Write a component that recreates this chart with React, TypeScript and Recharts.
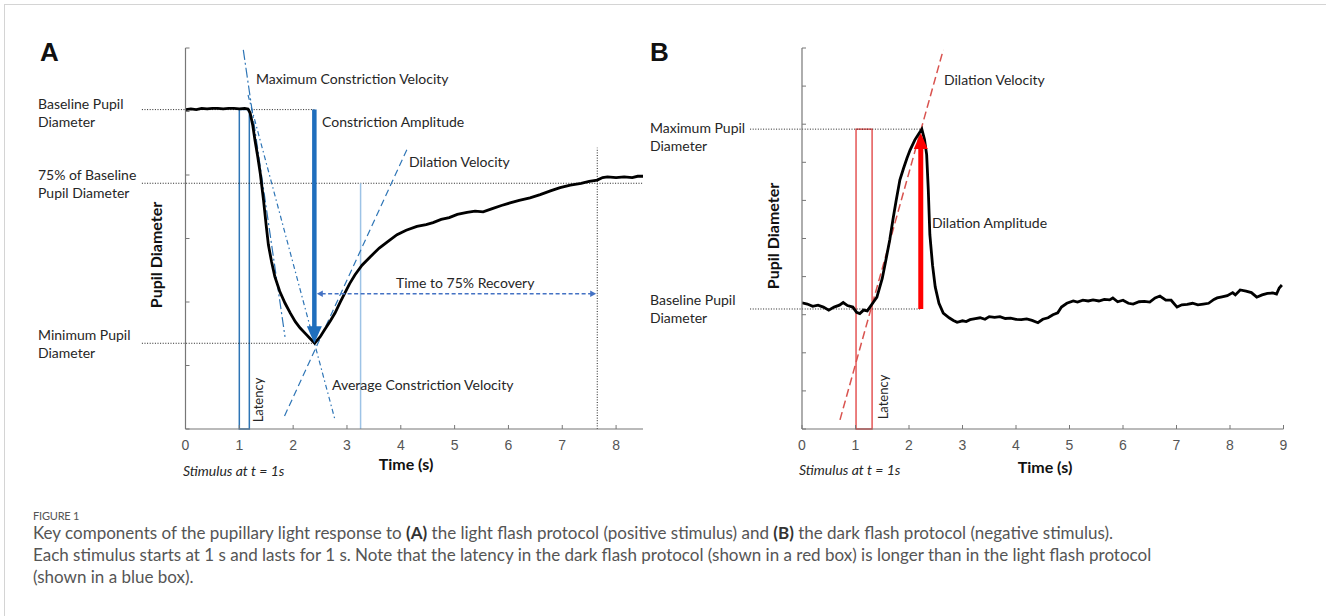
import React from 'react';
import { LineChart, Line, XAxis, YAxis, ReferenceLine, ReferenceArea } from 'recharts';

// ---------- Panel A: light flash (positive stimulus) ----------
const timeA = [0,0.1,0.2,0.3,0.4,0.5,0.6,0.7,0.8,0.9,1.0,1.1,1.16,1.2,1.25,1.29,1.34,1.39,1.45,1.5,1.54,1.6,1.66,1.75,1.85,1.95,2.04,2.13,2.22,2.31,2.4,2.5,2.59,2.69,2.78,2.87,2.96,3.05,3.15,3.28,3.43,3.6,3.77,3.93,4.1,4.3,4.47,4.6,4.75,4.9,5.05,5.23,5.38,5.53,5.7,5.87,6.03,6.2,6.4,6.59,6.78,6.96,7.15,7.35,7.5,7.65,7.75,7.84,8.0,8.15,8.3,8.4,8.5];
const diamA = [5.03,5.04,5.03,5.05,5.04,5.05,5.05,5.04,5.05,5.05,5.04,5.05,5.04,4.98,4.78,4.55,4.3,4.02,3.6,3.2,2.9,2.63,2.40,2.17,1.98,1.82,1.69,1.59,1.51,1.43,1.35,1.45,1.57,1.70,1.83,1.99,2.14,2.29,2.43,2.58,2.71,2.85,2.96,3.06,3.13,3.19,3.22,3.25,3.30,3.33,3.38,3.41,3.43,3.42,3.47,3.52,3.56,3.60,3.64,3.69,3.75,3.80,3.84,3.87,3.90,3.92,3.96,3.97,3.96,3.97,3.96,3.98,3.98];
const xTicksA = [0,1,2,3,4,5,6,7,8];
const yTicksA = [0,1,2,3,4,5,6];

// ---------- Panel B: dark flash (negative stimulus) ----------
const timeB = [0,0.1,0.2,0.3,0.4,0.5,0.6,0.7,0.77,0.85,0.95,1.02,1.08,1.15,1.22,1.27,1.33,1.4,1.5,1.57,1.64,1.7,1.76,1.83,1.9,1.96,2.02,2.11,2.18,2.24,2.29,2.33,2.36,2.39,2.44,2.49,2.56,2.64,2.75,2.83,2.9,3.0,3.07,3.14,3.24,3.33,3.42,3.5,3.6,3.7,3.8,3.9,4.0,4.1,4.2,4.3,4.41,4.5,4.6,4.69,4.78,4.85,4.95,5.07,5.15,5.25,5.35,5.44,5.55,5.65,5.75,5.81,5.9,6.0,6.1,6.19,6.3,6.4,6.5,6.6,6.69,6.8,6.9,7.01,7.1,7.2,7.3,7.4,7.5,7.6,7.7,7.76,7.85,7.95,8.05,8.1,8.19,8.3,8.4,8.5,8.6,8.7,8.8,8.87,8.92,8.97];
const diamB = [3.31,3.28,3.22,3.25,3.2,3.12,3.2,3.25,3.32,3.24,3.2,3.06,3.03,3.12,3.1,3.2,3.32,3.46,3.95,4.45,4.96,5.5,6.0,6.54,6.85,7.1,7.32,7.59,7.74,7.87,7.6,7.2,6.3,5.1,4.3,3.73,3.3,3.04,2.92,2.85,2.8,2.84,2.82,2.87,2.9,2.92,2.88,2.95,2.93,2.95,2.9,2.91,2.88,2.87,2.89,2.85,2.79,2.88,2.92,3.0,3.05,3.2,3.3,3.36,3.33,3.38,3.36,3.39,3.36,3.4,3.39,3.44,3.34,3.38,3.3,3.28,3.34,3.35,3.33,3.44,3.49,3.38,3.38,3.2,3.26,3.27,3.3,3.26,3.28,3.3,3.4,3.44,3.47,3.5,3.58,3.52,3.65,3.62,3.58,3.46,3.52,3.56,3.57,3.54,3.7,3.78];
const xTicksB = [0,1,2,3,4,5,6,7,8,9];
const yTicksB = [0,1,2,3,4,5,6,7,8,9,10];

// ---------- Annotation values (data units) ----------
const A_baseline = 5.03;
const A_recovery75 = 3.87;
const A_minimum = 1.35;
const A_minTime = 2.394;
const A_recoveryTime = 7.63;
const A_latency = [1.0, 1.186];
const A_labelStartT = -0.81;
const A_maxVel = [[1.074, 5.97], [1.849, 1.45]];
const A_avgVel = [[1.162, 5.26], [2.779, 0.14]];
const A_dilVel = [[1.84, 0.205], [4.13, 4.43]];
const A_peakMarkT = 3.253;
const A_recovTopV = 4.43;
const A_timeArrowV = 2.13;

const B_baseline = 3.15;
const B_maximum = 7.87;
const B_peakTime = 2.22;
const B_latency = [1.01, 1.31];
const B_labelStartT = -0.97;
const B_dilVel = [[0.71, 0.24], [2.64, 9.95]];

const dataA = timeA.map((t, i) => ({ t, v: diamA[i] }));
const dataB = timeB.map((t, i) => ({ t, v: diamB[i] }));

const LABEL_FONT = 'Lato, "Open Sans", sans-serif';
const TICK_FONT = '"Liberation Sans", Arial, sans-serif';

const XTick = (p: any) => (
  <g>
    <line x1={p.x} x2={p.x} y1={p.y} y2={p.y - 4} stroke="#777" strokeWidth={1} />
    <text x={p.x} y={p.y + 21} textAnchor="middle" fill="#555" fontSize={14} fontFamily={TICK_FONT}>
      {p.payload.value}
    </text>
  </g>
);
const YTick = (p: any) => (
  <line x1={p.x} x2={p.x + 4} y1={p.y} y2={p.y} stroke="#777" strokeWidth={1} />
);

function arrowShape(o: { color: string; width: number; headLen: number; headW: number; dash?: string; start?: boolean; end?: boolean }) {
  return (p: any) => {
    const { x1, y1, x2, y2 } = p;
    const dx = x2 - x1, dy = y2 - y1;
    const L = Math.hypot(dx, dy) || 1;
    const ux = dx / L, uy = dy / L, nx = -uy, ny = ux;
    const hl = o.headLen, hw = o.headW;
    const sx = o.start ? x1 + ux * hl * 0.8 : x1, sy = o.start ? y1 + uy * hl * 0.8 : y1;
    const ex = o.end ? x2 - ux * hl * 0.8 : x2, ey = o.end ? y2 - uy * hl * 0.8 : y2;
    const head = (tx: number, ty: number, dir: number) =>
      `${tx},${ty} ${tx - dir * ux * hl + nx * hw},${ty - dir * uy * hl + ny * hw} ${tx - dir * ux * hl - nx * hw},${ty - dir * uy * hl - ny * hw}`;
    return (
      <g>
        <line x1={sx} y1={sy} x2={ex} y2={ey} stroke={o.color} strokeWidth={o.width} strokeDasharray={o.dash} />
        {o.end && <polygon points={head(x2, y2, 1)} fill={o.color} />}
        {o.start && <polygon points={head(x1, y1, -1)} fill={o.color} />}
      </g>
    );
  };
}

const dotted = { stroke: '#222', strokeWidth: 1, strokeDasharray: '1 1.6' };
const seg = (a: number[], b: number[]) => [{ x: a[0], y: a[1] }, { x: b[0], y: b[1] }];

const T = (props: any) => (
  <text fontFamily={LABEL_FONT} fontSize={14} fill="#262626" {...props} />
);

const Lines2 = ({ x, y, a, b }: any) => (
  <T x={x} y={y}>
    <tspan x={x} dy={0}>{a}</tspan>
    <tspan x={x} dy={18}>{b}</tspan>
  </T>
);

export default function App() {
  return (
    <div style={{ position: 'fixed', left: 0, top: 0, width: 1326, height: 616, background: '#fff', overflow: 'hidden' }}>
      <div style={{ position: 'absolute', left: 4, top: 4, width: 1340, height: 640, borderTop: '1.5px solid #d4d4d4', borderLeft: '1.5px solid #d4d4d4' }} />

      {/* Panel A */}
      <div style={{ position: 'absolute', left: 0, top: 0 }}>
        <LineChart width={660} height={490} data={dataA} margin={{ top: 48, right: 17, bottom: 21, left: 175.5 }}>
          <XAxis type="number" dataKey="t" domain={[0, 8.5]} ticks={xTicksA} interval={0} height={40}
            tickSize={0} tickMargin={0} tickLine={false} tick={XTick} axisLine={{ stroke: '#777', strokeWidth: 1.2 }} allowDataOverflow />
          <YAxis type="number" domain={[0, 6]} ticks={yTicksA} interval={0} width={10}
            tickSize={0} tickMargin={0} tickLine={false} tick={YTick} axisLine={{ stroke: '#777', strokeWidth: 1.2 }} allowDataOverflow />
          <ReferenceArea x1={A_latency[0]} x2={A_latency[1]} y1={0} y2={A_baseline} fill="none" fillOpacity={0} stroke="#2E75B6" strokeWidth={1.5} ifOverflow="visible" />
          <ReferenceLine segment={seg([A_labelStartT, A_baseline], [A_minTime, A_baseline])} {...dotted} ifOverflow="visible" />
          <ReferenceLine segment={seg([A_labelStartT, A_recovery75], [8.5, A_recovery75])} {...dotted} ifOverflow="visible" />
          <ReferenceLine segment={seg([A_labelStartT, A_minimum], [A_minTime, A_minimum])} {...dotted} ifOverflow="visible" />
          <ReferenceLine segment={seg([A_recoveryTime + 0.02, 0], [A_recoveryTime + 0.02, A_recovTopV])} {...dotted} ifOverflow="visible" />
          <ReferenceLine segment={seg([A_peakMarkT, 0], [A_peakMarkT, A_recovery75])} stroke="#9DC3E6" strokeWidth={1.5} ifOverflow="visible" />
          <ReferenceLine segment={seg(A_maxVel[0], A_maxVel[1])} stroke="#2E75B6" strokeWidth={1.2} strokeDasharray="10 3 2 3" ifOverflow="visible" />
          <ReferenceLine segment={seg(A_avgVel[0], A_avgVel[1])} stroke="#2E75B6" strokeWidth={1.2} strokeDasharray="5 3 1.5 3" ifOverflow="visible" />
          <ReferenceLine segment={seg(A_dilVel[0], A_dilVel[1])} stroke="#2E75B6" strokeWidth={1.2} strokeDasharray="7 4" ifOverflow="visible" />
          <Line type="linear" dataKey="v" stroke="#000" strokeWidth={2.8} dot={false} isAnimationActive={false} />
          <ReferenceLine segment={seg([A_minTime, A_baseline], [A_minTime, A_minimum])} ifOverflow="visible"
            shape={arrowShape({ color: '#1F6EBD', width: 4.5, headLen: 17, headW: 7.5, end: true })} />
          <ReferenceLine segment={seg([2.44, A_timeArrowV], [A_recoveryTime, A_timeArrowV])} ifOverflow="visible"
            shape={arrowShape({ color: '#4472C4', width: 1.5, headLen: 6, headW: 3.2, dash: '4 2.5', start: true, end: true })} />
        </LineChart>
      </div>

      {/* Panel B */}
      <div style={{ position: 'absolute', left: 640, top: 0 }}>
        <LineChart width={686} height={490} data={dataB} margin={{ top: 48, right: 42.5, bottom: 21, left: 152 }}>
          <XAxis type="number" dataKey="t" domain={[0, 9]} ticks={xTicksB} interval={0} height={40}
            tickSize={0} tickMargin={0} tickLine={false} tick={XTick} axisLine={{ stroke: '#777', strokeWidth: 1.2 }} allowDataOverflow />
          <YAxis type="number" domain={[0, 10]} ticks={yTicksB} interval={0} width={10}
            tickSize={0} tickMargin={0} tickLine={false} tick={YTick} axisLine={{ stroke: '#777', strokeWidth: 1.2 }} allowDataOverflow />
          <ReferenceArea x1={B_latency[0]} x2={B_latency[1]} y1={0} y2={B_maximum} fill="none" fillOpacity={0} stroke="#E03C3C" strokeWidth={1.3} ifOverflow="visible" />
          <ReferenceLine segment={seg([B_labelStartT, B_baseline], [B_peakTime, B_baseline])} {...dotted} ifOverflow="visible" />
          <ReferenceLine segment={seg([B_labelStartT, B_maximum], [B_peakTime, B_maximum])} {...dotted} ifOverflow="visible" />
          <ReferenceLine segment={seg(B_dilVel[0], B_dilVel[1])} stroke="#D9534F" strokeWidth={1.5} strokeDasharray="8 4" ifOverflow="visible" />
          <Line type="linear" dataKey="v" stroke="#000" strokeWidth={2.8} dot={false} isAnimationActive={false} />
          <ReferenceLine segment={seg([B_peakTime, B_baseline], [B_peakTime, B_maximum - 0.1])} ifOverflow="visible"
            shape={arrowShape({ color: '#FF0000', width: 5, headLen: 16, headW: 7, end: true })} />
        </LineChart>
      </div>

      {/* Text layer */}
      <svg width={1326} height={616} style={{ position: 'absolute', left: 0, top: 0, pointerEvents: 'none' }}>
        <text x={40} y={61} fontFamily={TICK_FONT} fontWeight="bold" fontSize={26} fill="#111">A</text>
        <text x={650} y={61} fontFamily={TICK_FONT} fontWeight="bold" fontSize={26} fill="#111">B</text>

        <Lines2 x={38} y={108.5} a="Baseline Pupil" b="Diameter" />
        <Lines2 x={38} y={179.5} a="75% of Baseline" b="Pupil Diameter" />
        <Lines2 x={38} y={339.5} a="Minimum Pupil" b="Diameter" />
        <T x={256} y={84}>Maximum Constriction Velocity</T>
        <T x={322} y={127}>Constriction Amplitude</T>
        <T x={409} y={167}>Dilation Velocity</T>
        <T x={396} y={288}>Time to 75% Recovery</T>
        <T x={332} y={390}>Average Constriction Velocity</T>
        <T x={0} y={0} fontSize={13} textAnchor="middle" dominantBaseline="central" transform="translate(258,400) rotate(-90)">Latency</T>
        <T x={0} y={0} fontSize={16} fontWeight="bold" fill="#111" textAnchor="middle" dominantBaseline="central" transform="translate(155,255) rotate(-90)">Pupil Diameter</T>
        <T x={183} y={476} fontSize={14} fontStyle="italic">Stimulus at t = 1s</T>
        <T x={406} y={470} fontSize={16} fontWeight="bold" fill="#111" textAnchor="middle">Time (s)</T>

        <Lines2 x={650} y={132.5} a="Maximum Pupil" b="Diameter" />
        <Lines2 x={650} y={304.5} a="Baseline Pupil" b="Diameter" />
        <T x={944} y={85}>Dilation Velocity</T>
        <T x={932} y={228}>Dilation Amplitude</T>
        <T x={0} y={0} fontSize={13} textAnchor="middle" dominantBaseline="central" transform="translate(883,397) rotate(-90)">Latency</T>
        <T x={0} y={0} fontSize={16} fontWeight="bold" fill="#111" textAnchor="middle" dominantBaseline="central" transform="translate(772,236) rotate(-90)">Pupil Diameter</T>
        <T x={799} y={475} fontSize={14} fontStyle="italic">Stimulus at t = 1s</T>
        <T x={1045} y={473} fontSize={16} fontWeight="bold" fill="#111" textAnchor="middle">Time (s)</T>
      </svg>

      {/* Caption */}
      <div style={{ position: 'absolute', left: 33, top: 509, fontFamily: LABEL_FONT, color: '#555', fontSize: 11, letterSpacing: -0.2, lineHeight: '14px', whiteSpace: 'nowrap' }}>FIGURE 1</div>
      <div style={{ position: 'absolute', left: 33, top: 522, fontFamily: LABEL_FONT, color: '#555', fontSize: 17, lineHeight: '22px', whiteSpace: 'nowrap' }}>
        <div>Key components of the pupillary light response to <b style={{ color: '#333' }}>(A)</b> the light flash protocol (positive stimulus) and <b style={{ color: '#333' }}>(B)</b> the dark flash protocol (negative stimulus).</div>
        <div>Each stimulus starts at 1 s and lasts for 1 s. Note that the latency in the dark flash protocol (shown in a red box) is longer than in the light flash protocol</div>
        <div>(shown in a blue box).</div>
      </div>
    </div>
  );
}
